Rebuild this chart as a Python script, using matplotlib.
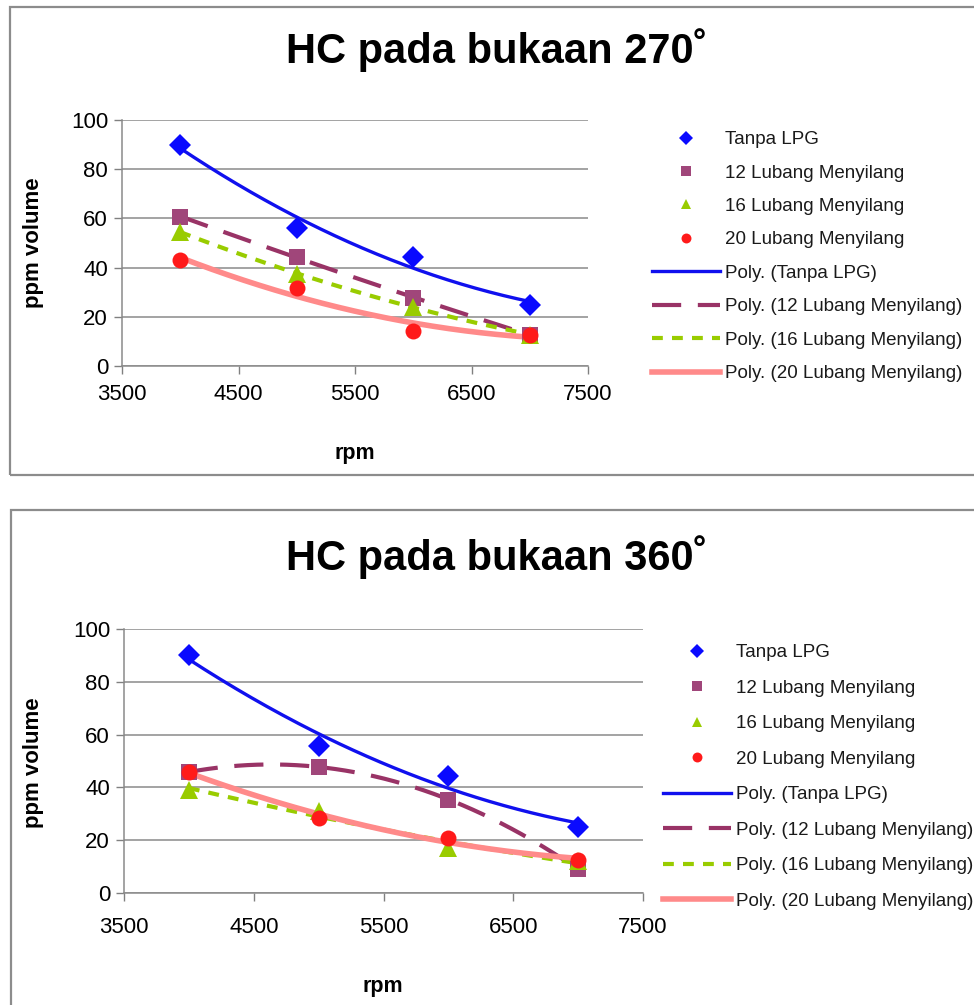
import matplotlib

matplotlib.use("Agg")

import matplotlib.pyplot as plt
import numpy as np
from matplotlib.patches import Rectangle

plt.rcParams["font.family"] = ["Liberation Sans", "DejaVu Sans"]

RPM = [4000, 5000, 6000, 7000]
SERIES_NAMES = ["Tanpa LPG", "12 Lubang Menyilang", "16 Lubang Menyilang", "20 Lubang Menyilang"]

# HC (ppm volume) at 270 degree opening
HC_270_TANPA = [90, 56, 44.3, 24.7]
HC_270_L12 = [60.7, 44.5, 27.5, 12.8]
HC_270_L16 = [54.5, 37.5, 24, 12.8]
HC_270_L20 = [43, 31.6, 14.2, 12.8]

# HC (ppm volume) at 360 degree opening
HC_360_TANPA = [90, 55.8, 44.2, 25]
HC_360_L12 = [45.8, 47.8, 35.4, 9]
HC_360_L16 = [39, 31.2, 17.2, 12]
HC_360_L20 = [46, 28.4, 20.7, 12.6]

X_TICKS = [3500, 4500, 5500, 6500, 7500]
Y_TICKS = [0, 20, 40, 60, 80, 100]

FIG_W, FIG_H = 974, 1005

MARKERS = [
    dict(marker="D", color="#0a0aff", ms=11.5),
    dict(marker="s", color="#a0467a", ms=11.5),
    dict(marker="^", color="#99cc00", ms=12.5),
    dict(marker="o", color="#ff1a1a", ms=11.5),
]
TRENDS = [
    dict(color="#1010ee", lw=2.4, ls="-"),
    dict(color="#993366", lw=3.0, ls=(0, (7, 4))),
    dict(color="#99cc00", lw=3.0, ls=(0, (2.6, 2.2))),
    dict(color="#ff8a8a", lw=4.0, ls="-"),
]


def fx(px):
    return px / FIG_W


def fy(py):
    return 1 - py / FIG_H


def draw_chart(fig, box, axes_px, series, title, title_y, ylabel_xy, xlabel_xy,
               legend_px, pitch, xpad):
    # grey frame round the chart
    x0, y0, x1, y1 = box
    fig.patches.append(Rectangle((fx(x0), fy(y1)), fx(x1 - x0), (y1 - y0) / FIG_H,
                                 transform=fig.transFigure, fill=False,
                                 edgecolor="#8c8c8c", linewidth=1.6))

    left, top, right, bottom = axes_px
    ax = fig.add_axes([fx(left), fy(bottom), fx(right - left), (bottom - top) / FIG_H])
    ax.set_xlim(3500, 7500)
    ax.set_ylim(0, 100)
    ax.set_xticks(X_TICKS)
    ax.set_yticks(Y_TICKS)
    ax.tick_params(axis="both", labelsize=16, color="#808080", length=6, width=1)
    ax.tick_params(axis="x", pad=xpad)
    ax.tick_params(axis="y", pad=4)
    ax.grid(axis="y", color="#8a8a8a", linewidth=1.1)
    ax.set_axisbelow(True)
    for side in ("top", "right"):
        ax.spines[side].set_visible(False)
    for side in ("left", "bottom"):
        ax.spines[side].set_color("#8a8a8a")
        ax.spines[side].set_linewidth(1.1)

    xs = np.linspace(RPM[0], RPM[-1], 200)
    point_handles, trend_handles = [], []
    for name, values, mk, tr in zip(SERIES_NAMES, series, MARKERS, TRENDS):
        # second order polynomial trend, as in the spreadsheet
        coef = np.polyfit(RPM, values, 2)
        line, = ax.plot(xs, np.polyval(coef, xs), color=tr["color"], lw=tr["lw"],
                        linestyle=tr["ls"], zorder=3, label=f"Poly. ({name})")
        pts, = ax.plot(RPM, values, linestyle="none", marker=mk["marker"], color=mk["color"],
                       markersize=mk["ms"], markeredgewidth=0, zorder=4, label=name)
        point_handles.append(pts)
        trend_handles.append(line)

    fig.text(0.51, fy(title_y), title, ha="center", va="center", fontsize=30, fontweight="bold")
    fig.text(fx(ylabel_xy[0]), fy(ylabel_xy[1]), "ppm volume", rotation=90, ha="center",
             va="center", fontsize=16, fontweight="bold")
    fig.text(fx(xlabel_xy[0]), fy(xlabel_xy[1]), "rpm", ha="center", va="center",
             fontsize=15.5, fontweight="bold")

    handles = point_handles + trend_handles
    leg = ax.legend(handles, [h.get_label() for h in handles],
                    loc="upper left", bbox_to_anchor=(fx(legend_px[0]), fy(legend_px[1])),
                    bbox_transform=fig.transFigure, frameon=False, fontsize=13.5,
                    handlelength=3.6, handletextpad=0.28, labelspacing=pitch,
                    borderpad=0, borderaxespad=0, markerscale=0.62)
    for text in leg.get_texts():
        text.set_color("#1a1a1a")
    return ax


def main():
    fig = plt.figure(figsize=(FIG_W / 100, FIG_H / 100), dpi=100)

    draw_chart(fig, (10, 7, 990, 475), (122, 120, 588, 366),
               [HC_270_TANPA, HC_270_L12, HC_270_L16, HC_270_L20],
               "HC pada bukaan 270˚", 50, (33, 243), (355, 453), (652, 131), 0.87, 7)

    draw_chart(fig, (11, 510, 990, 1030), (124, 629, 643, 893),
               [HC_360_TANPA, HC_360_L12, HC_360_L16, HC_360_L20],
               "HC pada bukaan 360˚", 557, (34, 763), (383, 986), (663, 644), 0.98, 11)

    fig.savefig("out.png", dpi=100)


if __name__ == "__main__":
    main()
